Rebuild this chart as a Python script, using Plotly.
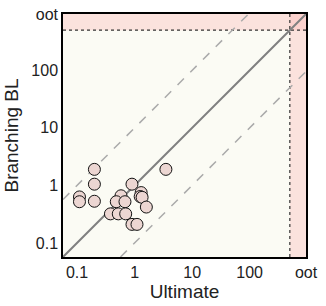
import numpy as np
import plotly.graph_objects as go

# Data
ultimate = [0.2, 0.2, 0.2, 0.11, 0.11, 3.5, 0.9, 0.58, 0.48, 0.68, 0.38, 0.52, 0.7, 0.9, 1.1, 1.3, 1.25, 1.35, 1.6]
branching = [1.9, 1.05, 0.53, 0.63, 0.52, 1.9, 1.05, 0.66, 0.52, 0.52, 0.32, 0.32, 0.32, 0.21, 0.21, 0.75, 0.64, 0.62, 0.42]

tick_vals = [0.1, 1, 10, 100, 1000]
tick_text = ["0.1", "1", "10", "100", "oot"]
lo, hi = 10 ** -1.245, 10 ** 2.98
threshold = 500
oot_val = hi

fig = go.Figure()

band = "rgba(253,170,170,0.3)"
# top band (y > threshold)
fig.add_trace(go.Scatter(x=[lo, hi, hi, lo, lo], y=[threshold, threshold, hi, hi, threshold],
                         fill="toself", fillcolor=band, line=dict(width=0), mode="lines",
                         hoverinfo="skip", showlegend=False))
# right band (x > threshold)
fig.add_trace(go.Scatter(x=[threshold, hi, hi, threshold, threshold], y=[lo, lo, hi, hi, lo],
                         fill="toself", fillcolor=band, line=dict(width=0), mode="lines",
                         hoverinfo="skip", showlegend=False))
# dotted threshold lines
fig.add_trace(go.Scatter(x=[lo, hi], y=[threshold, threshold], mode="lines",
                         line=dict(color="#333333", width=1.2, dash="dot"), showlegend=False))
fig.add_trace(go.Scatter(x=[threshold, threshold], y=[lo, hi], mode="lines",
                         line=dict(color="#333333", width=1.2, dash="dot"), showlegend=False))
# dashed lines (10x and 0.1x)
fig.add_trace(go.Scatter(x=[lo, hi / 10], y=[lo * 10, hi], mode="lines",
                         line=dict(color="#aaaaaa", width=1.5, dash="dash"), showlegend=False))
fig.add_trace(go.Scatter(x=[lo * 10, hi], y=[lo, hi / 10], mode="lines",
                         line=dict(color="#aaaaaa", width=1.5, dash="dash"), showlegend=False))
# identity line
fig.add_trace(go.Scatter(x=[lo, hi], y=[lo, hi], mode="lines",
                         line=dict(color="#808080", width=2), showlegend=False))
# points
fig.add_trace(go.Scatter(x=ultimate, y=branching, mode="markers",
                         marker=dict(size=12, color="#ecd6d2", line=dict(color="#111111", width=1)),
                         showlegend=False))

tick_vals[-1] = oot_val
axis_common = dict(type="log", range=[np.log10(lo), np.log10(hi)], tickvals=tick_vals, ticktext=tick_text,
                   showgrid=False, zeroline=False, showline=True, linecolor="black", linewidth=1.5,
                   mirror=True, ticks="", tickfont=dict(size=16, color="#222222"),
                   title_font=dict(size=19, color="#222222"), automargin=False)
fig.update_xaxes(**axis_common, title_text="Ultimate", title_standoff=3)
fig.update_yaxes(**axis_common, title_text="Branching BL", title_standoff=8)

fig.update_layout(width=326, height=306, margin=dict(l=63, r=20, t=14, b=49),
                  plot_bgcolor="#fbfbf4", paper_bgcolor="white",
                  font=dict(family="Liberation Sans, Arial, sans-serif"))

fig.write_html("out.html", config={"displayModeBar": False},
               post_script="document.body.style.margin='0';")
